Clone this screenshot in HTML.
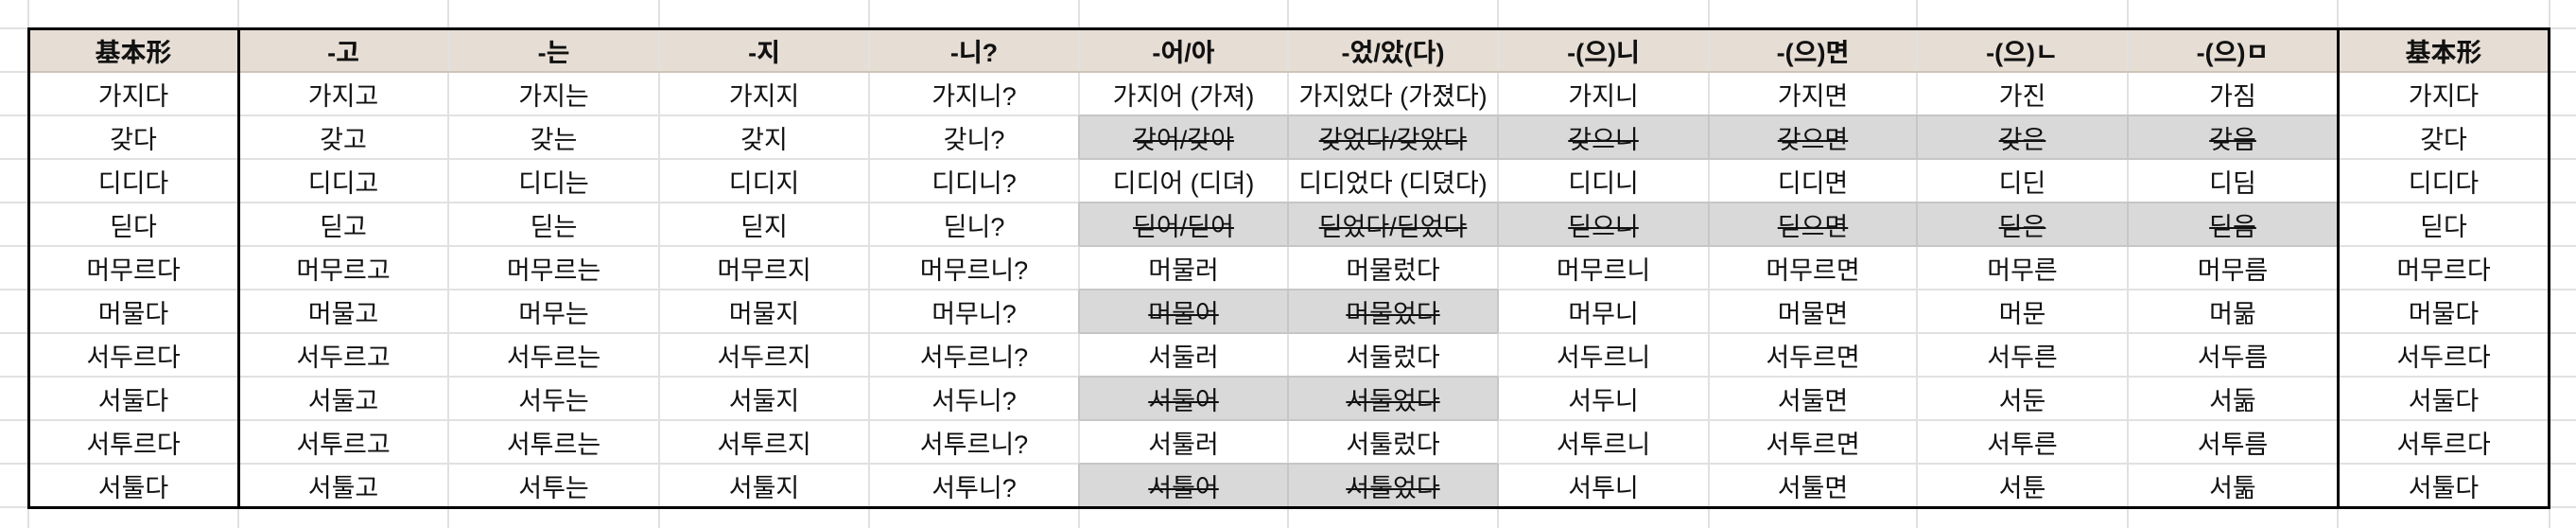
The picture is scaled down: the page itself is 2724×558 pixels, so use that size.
<!DOCTYPE html>
<html><head><meta charset="utf-8">
<style>
html,body{margin:0;padding:0;width:2724px;height:558px;overflow:hidden;background:#fff;position:relative;}
.gl{position:absolute;background:#e1e1e1;}
.c{position:absolute;box-sizing:border-box;display:flex;align-items:center;justify-content:center;white-space:nowrap;
 font-family:"Liberation Sans","Noto Sans CJK KR",sans-serif;font-size:27px;color:#111;}
.hd{background:#e6ddd4;font-weight:bold;}
.g{background:#d9d9d9;text-decoration:line-through;}
.gb{position:absolute;background:#c6c6c6;}
.k{position:absolute;background:#000;}
</style></head><body>
<div id="root"></div>
<script>
const headers=["基本形","-고","-는","-지","-니?","-어/아","-었/았(다)","-(으)니","-(으)면","-(으)ㄴ","-(으)ㅁ","基本形"];
const rows=[
["가지다","가지고","가지는","가지지","가지니?","가지어 (가져)","가지었다 (가졌다)","가지니","가지면","가진","가짐","가지다"],
["갖다","갖고","갖는","갖지","갖니?","갖어/갖아","갖었다/갖았다","갖으니","갖으면","갖은","갖음","갖다"],
["디디다","디디고","디디는","디디지","디디니?","디디어 (디뎌)","디디었다 (디뎠다)","디디니","디디면","디딘","디딤","디디다"],
["딛다","딛고","딛는","딛지","딛니?","딛어/딛어","딛었다/딛었다","딛으니","딛으면","딛은","딛음","딛다"],
["머무르다","머무르고","머무르는","머무르지","머무르니?","머물러","머물렀다","머무르니","머무르면","머무른","머무름","머무르다"],
["머물다","머물고","머무는","머물지","머무니?","머물어","머물었다","머무니","머물면","머문","머묾","머물다"],
["서두르다","서두르고","서두르는","서두르지","서두르니?","서둘러","서둘렀다","서두르니","서두르면","서두른","서두름","서두르다"],
["서둘다","서둘고","서두는","서둘지","서두니?","서둘어","서둘었다","서두니","서둘면","서둔","서둚","서둘다"],
["서투르다","서투르고","서투르는","서투르지","서투르니?","서툴러","서툴렀다","서투르니","서투르면","서투른","서투름","서투르다"],
["서툴다","서툴고","서투는","서툴지","서투니?","서툴어","서툴었다","서투니","서툴면","서툰","서툶","서툴다"]];
const fullGray=[1,3];
const partGray=[5,7,9];
const xs=[30,252,474,697,919,1141,1362,1584,1807,2027,2250,2472,2696];
const top0=30,rh=46;
const root=document.getElementById('root');
function line(cls,x,y,w,h){const d=document.createElement('div');d.className=cls;
 d.style.left=x+'px';d.style.top=y+'px';d.style.width=w+'px';d.style.height=h+'px';
 
 
 root.appendChild(d);return d;}
function cell(txt,ci,ri,cls){const d=document.createElement('div');d.className='c '+cls;
 d.style.left=xs[ci]+'px';d.style.top=(top0+ri*rh)+'px';d.style.width=(xs[ci+1]-xs[ci])+'px';d.style.height=rh+'px';
 d.textContent=txt;
 
 
 root.appendChild(d);}
headers.forEach((h,i)=>cell(h,i,0,'hd'));
rows.forEach((r,ri)=>r.forEach((v,ci)=>{let cls='';
 if(fullGray.includes(ri)&&ci>=5&&ci<=10)cls='g';
 if(partGray.includes(ri)&&(ci==5||ci==6))cls='g';
 cell(v,ci,ri+1,cls);}));
xs.forEach(x=>line('gl',x-1,0,2,558));
for(let y=top0;y<558;y+=rh)line('gl',0,y-1,2724,2);
line('gb',30,top0+rh-1,2666,2).style.background='#cfc4b8';
rows.forEach((r,ri)=>{let a=-1,b=-1;
 if(fullGray.includes(ri)){a=5;b=10;}else if(partGray.includes(ri)){a=5;b=6;}
 if(a<0)return;const y=top0+(ri+1)*rh;
 line('gb',xs[a],y-1,xs[b+1]-xs[a],2);line('gb',xs[a],y+rh-1,xs[b+1]-xs[a],2);
 for(let c=a;c<=b+1;c++)line('gb',xs[c]-1,y,2,rh);});
const bot=top0+11*rh;
line('k',29,top0-1,2668,3);line('k',29,bot-1,2668,3);
line('k',29,top0-1,3,bot-top0+2);line('k',2694,top0-1,3,bot-top0+2);
line('k',251,top0-1,3,bot-top0+2);line('k',2471,top0-1,3,bot-top0+2);
</script>
</body></html>
